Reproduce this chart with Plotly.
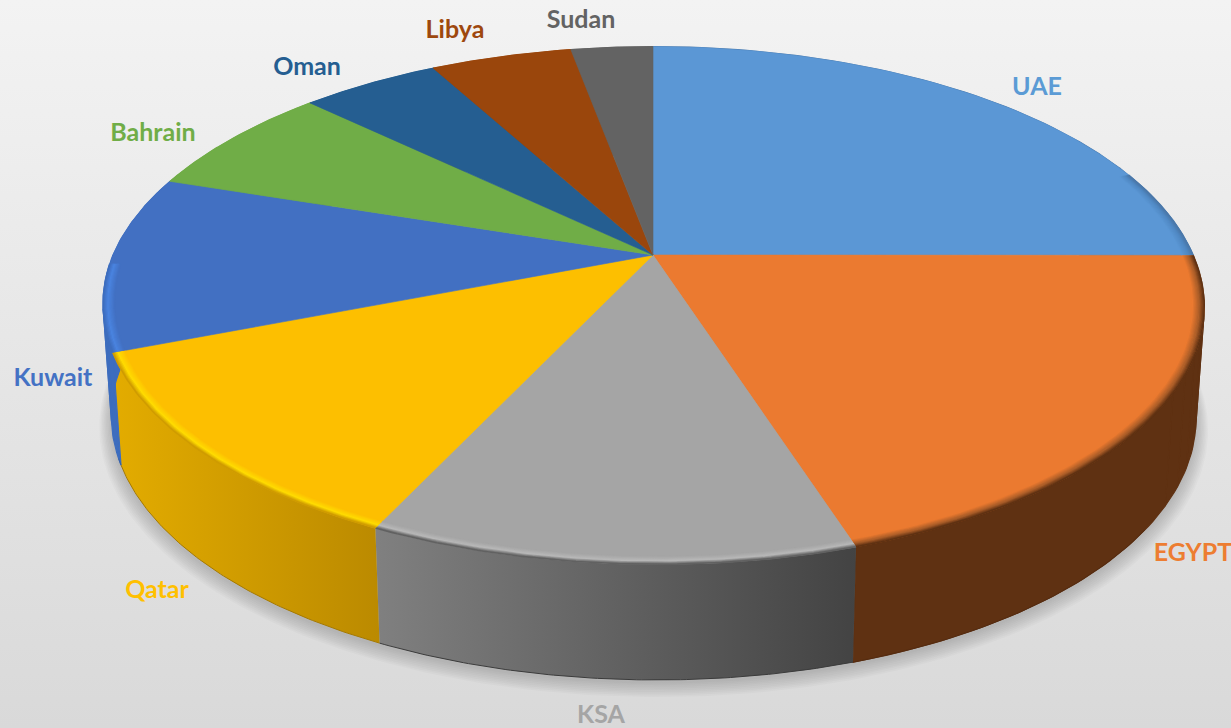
import numpy as np
import plotly.graph_objects as go

# ---- data (share of the pie, %) ----
labels = ["UAE", "EGYPT", "KSA", "Qatar", "Kuwait", "Bahrain", "Oman", "Libya", "Sudan"]
values = [25.0, 20.1, 11.9, 12.0, 11.0, 7.1, 4.9, 5.0, 2.9]

# ---- styles ----
face_colors = ["#5B97D5", "#EB7A30", "#A5A5A5", "#FDBF00", "#4270C2", "#70AD47", "#255E91", "#9A460C", "#636363"]
text_colors = ["#5B9BD5", "#ED7D31", "#A5A5A5", "#FFC000", "#4472C4", "#70AD47", "#255E91", "#9E480E", "#636363"]
wall_left = ["#4A78AA", "#5F3112", "#808080", "#E3AC00", "#3D6DBE", "#70AD47", "#255E91", "#9A460C", "#636363"]
wall_right = ["#4A78AA", "#5F3112", "#434343", "#BB8A00", "#3D6DBE", "#70AD47", "#255E91", "#9A460C", "#636363"]
rim_high = ["#5089C4", "#A85C28", "#B8B8B8", "#FFDC00", "#4A84E0", "#70AD47", "#255E91", "#9A460C", "#636363"]
label_x = [1037, 1193, 601, 157, 53, 153, 307, 455, 581]
label_y = [89, 555, 717, 592, 380, 135, 69, 32, 22]

# ---- projection of the pie disc into the canvas ----
CX, CY = 653, 255
A, B, K, SHEAR = 540, 249, 0.195, 0.013
FX, Y0, SY = 0.985, 366, 1.015


def top(theta, r=1.0):
    den = 1 + K * r * np.cos(theta)
    dy = -B * r * np.cos(theta) / den
    return CX + A * r * np.sin(theta) / den + SHEAR * np.maximum(dy, 0), CY + dy


def bottom(theta, grow=1.0, dy=0.0):
    x, y = top(theta)
    return CX + (x - CX) * FX * grow, Y0 + (y - CY) * SY * grow + dy


def hex2rgb(c):
    return np.array([int(c[i:i + 2], 16) for i in (1, 3, 5)], dtype=float)


def mix(c1, c2, t):
    v = hex2rgb(c1) * (1 - t) + hex2rgb(c2) * t
    return "rgb(%d,%d,%d)" % tuple(v.round())


shares = np.array(values) / sum(values)
edges = np.concatenate([[0], np.cumsum(shares)]) * 2 * np.pi

fig = go.Figure()

# background
fig.add_trace(go.Scatter(
    x=[0, 1231, 1231, 0, 0], y=[0, 0, 728, 728, 0], mode="lines", line=dict(width=0),
    fill="toself", fillgradient=dict(type="vertical", colorscale=[[0, "#D9D9D9"], [1, "#F3F3F3"]]),
    hoverinfo="skip", showlegend=False))

# soft shadow below the pie
circle = np.linspace(0, 2 * np.pi, 361)
for i in range(9, 0, -1):
    sx, sy = bottom(circle, 1 + 0.0025 * i, 2 + 0.9 * i)
    fig.add_trace(go.Scatter(x=sx, y=sy, mode="lines", line=dict(width=0), fill="toself",
                             fillcolor="rgba(0,0,0,0.02)", hoverinfo="skip", showlegend=False))

# side walls: cut where the wall folds at the silhouette, so that no piece overlaps itself
fold_cuts = np.radians(np.concatenate([np.arange(60, 124, 4), np.arange(250, 300, 4)]))
for i, name in enumerate(labels):
    inner = fold_cuts[(fold_cuts > edges[i]) & (fold_cuts < edges[i + 1])]
    stops = np.concatenate([[edges[i]], inner, [edges[i + 1]]])
    plain = wall_left[i] == wall_right[i]
    for a, b in zip(stops[:-1], stops[1:]):
        t = np.linspace(a, b, 40)
        xt, yt = top(t)
        xb, yb = bottom(t)
        style = dict(fillcolor=wall_left[i], line=dict(width=1.2, color=wall_left[i])) if plain else dict(
            line=dict(width=0),
            fillgradient=dict(type="horizontal", colorscale=[[0, wall_left[i]], [1, wall_right[i]]]))
        fig.add_trace(go.Scatter(
            x=np.concatenate([xt, xb[::-1], xt[:1]]), y=np.concatenate([yt, yb[::-1], yt[:1]]),
            mode="lines", fill="toself", hoverinfo="skip", showlegend=False, **style))
    t = np.linspace(edges[i], edges[i + 1], 90)
    front = t[(t > np.radians(125)) & (t < np.radians(250))]
    if len(front):
        xe, ye = bottom(front)
        fig.add_trace(go.Scatter(x=xe, y=ye, mode="lines",
                                 line=dict(width=1, color=mix(wall_right[i], "#000000", 0.12)),
                                 hoverinfo="skip", showlegend=False))

# top faces
for i, name in enumerate(labels):
    t = np.linspace(edges[i], edges[i + 1], 90)
    xt, yt = top(t)
    fig.add_trace(go.Scatter(
        x=np.concatenate([[CX], xt, [CX]]), y=np.concatenate([[CY], yt, [CY]]),
        mode="lines", line=dict(width=0.6, color=face_colors[i]), fill="toself",
        fillcolor=face_colors[i], name=name, text=["%s %.1f%%" % (name, values[i])] * 92,
        hoverinfo="text", showlegend=False))

# bevel along the front rim
STEPS = 10
for i, name in enumerate(labels):
    lo, hi = max(edges[i], np.radians(70)), min(edges[i + 1], np.radians(268))
    if lo >= hi:
        continue
    t = np.linspace(lo, hi, 80)
    edge_hex = "#%02X%02X%02X" % tuple(int(v) for v in
                                       (hex2rgb(wall_left[i]) + hex2rgb(wall_right[i])) / 2)
    for s in range(STEPS, -1, -1):
        u = s / STEPS
        r = 1 - 0.02 * u
        if u < 0.4:
            c = mix(edge_hex, rim_high[i], u / 0.4)
        else:
            c = mix(rim_high[i], face_colors[i], (u - 0.4) / 0.6)
        xr, yr = top(t, r)
        fig.add_trace(go.Scatter(x=xr, y=yr, mode="lines", line=dict(width=1.6, color=c),
                                 hoverinfo="skip", showlegend=False))

# labels
fig.add_trace(go.Scatter(
    x=label_x, y=label_y, mode="text", text=labels, textposition="middle center",
    textfont=dict(family="Lato", size=25, color=text_colors, weight="bold"),
    hoverinfo="skip", showlegend=False, cliponaxis=False))

fig.update_layout(
    width=1231, height=728, margin=dict(l=0, r=0, t=0, b=0),
    paper_bgcolor="#EBEBEB", plot_bgcolor="#EBEBEB", showlegend=False,
    xaxis=dict(range=[0, 1231], visible=False, fixedrange=True),
    yaxis=dict(range=[728, 0], visible=False, fixedrange=True),
)
fig.write_html("out.html", config=dict(displayModeBar=False),
               post_script="document.body.style.margin='0';document.body.style.overflow='hidden';")
